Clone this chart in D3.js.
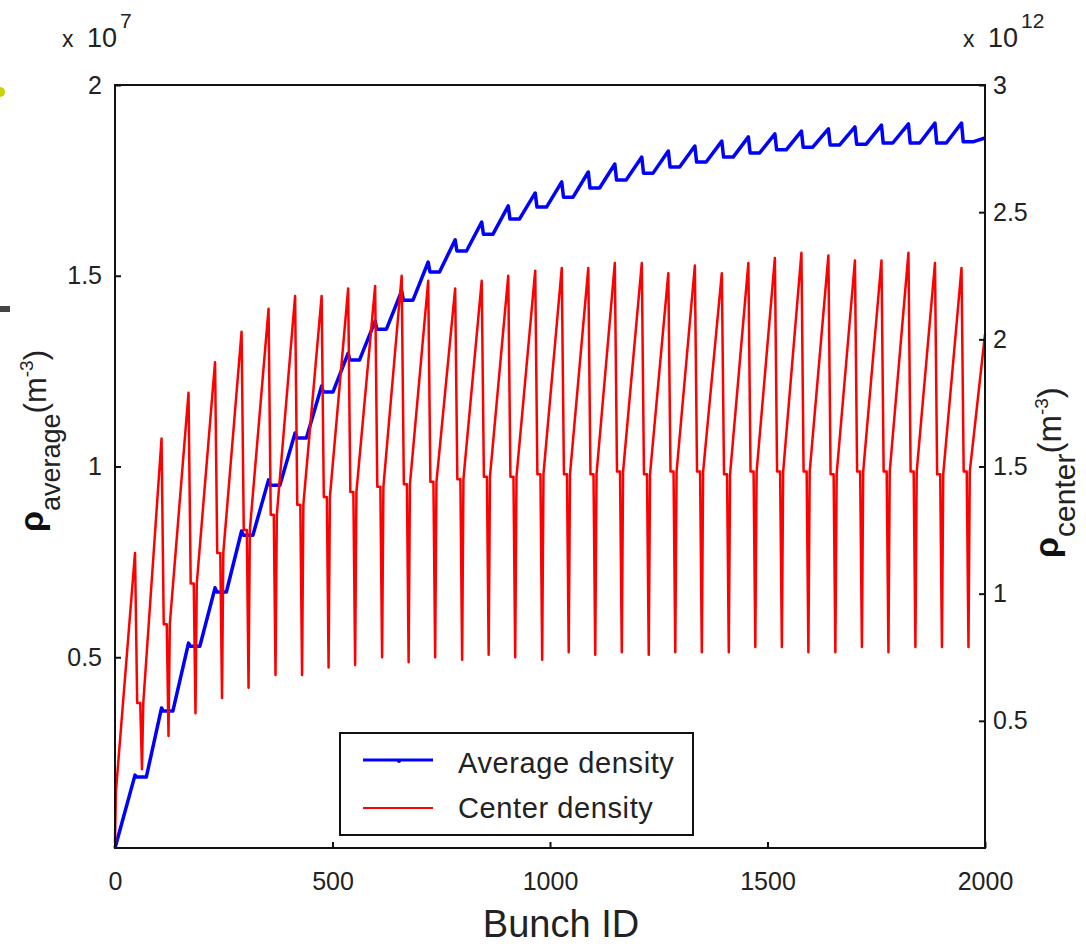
<!DOCTYPE html>
<html>
<head>
<meta charset="utf-8">
<script src="https://cdn.jsdelivr.net/npm/d3@7"></script>
<style>
  body { margin: 0; background: #fff; }
  text { font-family: "Liberation Sans", Arial, sans-serif; fill: #222; }
</style>
</head>
<body>
<div id="chart"></div>
<script>
// bunch ID of each train end (peak of centre density)
const peakBunch = [46, 107, 169, 230, 291, 353, 414, 475, 536, 598, 659, 720, 782, 843, 904, 966,
    1027, 1088, 1149, 1211, 1272, 1333, 1395, 1456, 1517, 1578, 1640, 1701, 1762, 1824, 1885, 1946];

// centre density, units of 1e12 m^-3
const redPeak = [1.16, 1.61, 1.79, 1.91, 2.03, 2.12, 2.17, 2.17, 2.20, 2.21, 2.25, 2.23, 2.20, 2.23, 2.25, 2.27,
    2.28, 2.28, 2.30, 2.30, 2.26, 2.29, 2.26, 2.30, 2.32, 2.34, 2.33, 2.31, 2.31, 2.34, 2.30, 2.28];
const redDrop = [0.57, 0.88, 1.04, 1.16, 1.25, 1.31, 1.35, 1.38, 1.40, 1.42, 1.43, 1.44, 1.45, 1.46, 1.46, 1.47,
    1.47, 1.47, 1.48, 1.47, 1.48, 1.48, 1.47, 1.48, 1.48, 1.48, 1.47, 1.48, 1.48, 1.48, 1.47, 1.48];
const redMin = [0.31, 0.44, 0.53, 0.59, 0.63, 0.68, 0.68, 0.71, 0.72, 0.75, 0.73, 0.75, 0.74, 0.76, 0.75, 0.74,
    0.77, 0.76, 0.77, 0.76, 0.77, 0.77, 0.77, 0.79, 0.79, 0.77, 0.77, 0.79, 0.77, 0.79, 0.79, 0.79];
const redStart = [[0, 0.02], [2, 0.22]];
const redEnd = [2000, 2.02];
// bunch offsets after each peak: drop, end of plateau, minimum, restart
const redGap = [5, 12, 16, 19];

// average density, units of 1e7 m^-3
const blueHigh = [0.191, 0.367, 0.537, 0.682, 0.831, 0.965, 1.088, 1.211, 1.297, 1.381, 1.460, 1.536, 1.594, 1.641, 1.683, 1.717,
    1.746, 1.772, 1.793, 1.811, 1.827, 1.840, 1.853, 1.864, 1.872, 1.879, 1.885, 1.890, 1.895, 1.898, 1.900, 1.900];
const blueLow = [0.186, 0.359, 0.529, 0.671, 0.820, 0.951, 1.075, 1.195, 1.279, 1.360, 1.436, 1.510, 1.565, 1.609, 1.649, 1.680,
    1.706, 1.730, 1.751, 1.769, 1.785, 1.798, 1.811, 1.822, 1.830, 1.837, 1.843, 1.845, 1.848, 1.848, 1.848, 1.851];
const blueStart = [0, 0];
const blueEnd = [2000, 1.861];
// bunch offsets after each peak: drop, end of flat part
const blueGap = [4, 26];

const xTicks = [0, 500, 1000, 1500, 2000];
const leftTicks = [0.5, 1, 1.5, 2];
const rightTicks = [0.5, 1, 1.5, 2, 2.5, 3];

const width = 1086, height = 944;
const plotLeft = 115, plotRight = 985, plotTop = 85, plotBottom = 848;

const svg = d3.select("#chart").append("svg")
    .attr("width", width)
    .attr("height", height);

svg.append("rect").attr("width", width).attr("height", height).attr("fill", "#fff");

const x = d3.scaleLinear().domain([0, 2000]).range([plotLeft, plotRight]);
const yL = d3.scaleLinear().domain([0, 2]).range([plotBottom, plotTop]);
const yR = d3.scaleLinear().domain([0, 3]).range([plotBottom, plotTop]);

// build vertex lists
const bluePts = [blueStart];
peakBunch.forEach((b, i) => {
    bluePts.push([b, blueHigh[i]]);
    bluePts.push([b + blueGap[0], blueLow[i]]);
    bluePts.push([b + blueGap[1], blueLow[i]]);
});
bluePts.push(blueEnd);

const redPts = redStart.slice();
peakBunch.forEach((b, i) => {
    redPts.push([b, redPeak[i]]);
    redPts.push([b + redGap[0], redDrop[i]]);
    redPts.push([b + redGap[1], redDrop[i]]);
    redPts.push([b + redGap[2], redMin[i]]);
    redPts.push([b + redGap[3], redDrop[i]]);
});
redPts.push(redEnd);

const lineL = d3.line().x(d => x(d[0])).y(d => yL(d[1]));
const lineR = d3.line().x(d => x(d[0])).y(d => yR(d[1]));

svg.append("path")
    .attr("d", lineL(bluePts))
    .attr("fill", "none")
    .attr("stroke", "#0000ff")
    .attr("stroke-width", 3.5)
    .attr("stroke-linejoin", "round");

svg.append("path")
    .attr("d", lineR(redPts))
    .attr("fill", "none")
    .attr("stroke", "#ff0000")
    .attr("stroke-width", 2.5)
    .attr("stroke-linejoin", "round");

// axes (ticks inside the box)
const axB = svg.append("g").attr("transform", `translate(0,${plotBottom})`)
    .call(d3.axisBottom(x).tickValues(xTicks).tickSize(-6).tickFormat(d3.format("d")));
const axL = svg.append("g").attr("transform", `translate(${plotLeft},0)`)
    .call(d3.axisLeft(yL).tickValues(leftTicks).tickSize(-6).tickFormat(d => d));
const axR = svg.append("g").attr("transform", `translate(${plotRight},0)`)
    .call(d3.axisRight(yR).tickValues(rightTicks).tickSize(-6).tickFormat(d => d));

[axB, axL, axR].forEach(g => {
    g.select(".domain").remove();
    g.selectAll(".tick line").attr("stroke", "#111").attr("stroke-width", 2);
    g.selectAll(".tick text").attr("font-size", 25).attr("fill", "#222")
        .style("font-family", "'Liberation Sans', Arial, sans-serif");
});
axB.selectAll(".tick text").attr("y", 24).attr("dy", "0.71em");
axL.selectAll(".tick text").attr("x", -13);
axR.selectAll(".tick text").attr("x", 8);

// frame
svg.append("rect")
    .attr("x", plotLeft).attr("y", plotTop)
    .attr("width", plotRight - plotLeft).attr("height", plotBottom - plotTop)
    .attr("fill", "none").attr("stroke", "#111").attr("stroke-width", 2);

// exponent labels
function exponent(x0, power) {
    const t = svg.append("text");
    t.append("tspan").attr("x", x0).attr("y", 47).attr("font-size", 23).text("x");
    t.append("tspan").attr("x", x0 + 25).attr("y", 47).attr("font-size", 27).text("10");
    t.append("tspan").attr("x", x0 + 58).attr("y", 28).attr("font-size", 21).text(power);
}
exponent(62, "7");
exponent(963, "12");

// axis titles
svg.append("text")
    .attr("x", 561).attr("y", 937)
    .attr("text-anchor", "middle")
    .attr("font-size", 38)
    .text("Bunch ID");

function yTitle(xBase, yStart, sub, subSize, parSize) {
    const t = svg.append("text")
        .attr("transform", `translate(${xBase},${yStart}) rotate(-90)`);
    t.append("tspan").attr("font-size", 34).attr("font-weight", "bold").style("fill", "#111").text("ρ");
    t.append("tspan").attr("font-size", subSize).attr("dy", 17).text(sub);
    t.append("tspan").attr("font-size", parSize).attr("dy", -14).text("(m");
    t.append("tspan").attr("font-size", 19).attr("dy", -13).text("-3");
    t.append("tspan").attr("font-size", parSize).attr("dy", 13).text(")");
}
yTitle(43, 532, "average", 27, 31);
yTitle(1058, 558, "center", 30, 33);

// legend
const lg = svg.append("g");
lg.append("rect")
    .attr("x", 340).attr("y", 733).attr("width", 353).attr("height", 102)
    .attr("fill", "#fff").attr("stroke", "#111").attr("stroke-width", 2);
lg.append("line").attr("x1", 363).attr("x2", 433).attr("y1", 760).attr("y2", 760)
    .attr("stroke", "#0000ff").attr("stroke-width", 3);
lg.append("circle").attr("cx", 399).attr("cy", 761).attr("r", 2).attr("fill", "#0000ff");
lg.append("line").attr("x1", 363).attr("x2", 433).attr("y1", 808).attr("y2", 808)
    .attr("stroke", "#ff0000").attr("stroke-width", 2);
lg.append("text").attr("x", 458).attr("y", 773).attr("font-size", 29).attr("letter-spacing", 0.6).text("Average density");
lg.append("text").attr("x", 458).attr("y", 818).attr("font-size", 29).attr("letter-spacing", 0.6).text("Center density");

// bits of neighbouring figure cut off at the left edge
svg.append("circle").attr("cx", 0).attr("cy", 92).attr("r", 5).attr("fill", "#c8d400");
svg.append("rect").attr("x", 0).attr("y", 306).attr("width", 10).attr("height", 6).attr("fill", "#444");
</script>
</body>
</html>
